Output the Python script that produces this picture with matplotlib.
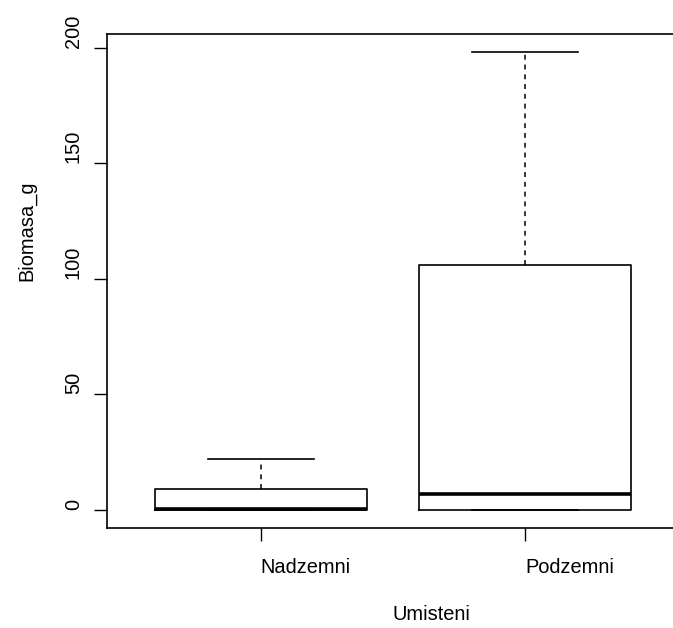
import matplotlib
matplotlib.use("Agg")
import matplotlib.pyplot as plt

plt.rcParams['font.family'] = ['Liberation Sans', 'DejaVu Sans']

# biomass summary per placement (g)
groups = ["Nadzemni", "Podzemni"]
whis_lo = [0.0, 0.0]
q1 = [0.0, 0.0]
medians = [0.5, 7.0]
q3 = [9.0, 106.0]
whis_hi = [22.0, 198.0]

yticks = [0, 50, 100, 150, 200]

stats = []
for i in range(len(groups)):
    stats.append({"label": groups[i], "whislo": whis_lo[i], "q1": q1[i],
                  "med": medians[i], "q3": q3[i], "whishi": whis_hi[i],
                  "fliers": []})

fig = plt.figure(figsize=(6.73, 6.28), dpi=100)
ax = fig.add_axes([107 / 673, 100 / 628, 572 / 673, 494 / 628])

ax.bxp(stats, positions=[1, 2], widths=0.8, showfliers=False,
       boxprops=dict(color="black", linewidth=1.2),
       medianprops=dict(color="black", linewidth=2.6, solid_capstyle="butt"),
       whiskerprops=dict(color="black", linewidth=1.1, linestyle=(0, (3.2, 3.2))),
       capprops=dict(color="black", linewidth=1.2),
       capwidths=0.4)

# same 4% padding as the base boxplot
lo = min(whis_lo)
hi = max(whis_hi)
ax.set_ylim(lo - 0.04 * (hi - lo), hi + 0.04 * (hi - lo))
ax.set_xlim(0.5 - 0.08, len(groups) + 0.5 + 0.08)

for s in ax.spines.values():
    s.set_linewidth(1.2)
    s.set_color("black")

ax.set_yticks(yticks)
ax.set_yticklabels([str(v) for v in yticks], rotation=90, va="bottom", fontsize=14.4)
ax.set_xticks([1, 2])
ax.set_xticklabels(groups, ha="left", fontsize=14.4)
ax.tick_params(axis="both", length=9.4, width=1.0, direction="out")
ax.tick_params(axis="y", pad=8)
ax.tick_params(axis="x", pad=12)

ax.set_xlabel("Umisteni", ha="left", fontsize=14.4, labelpad=20)
ax.set_ylabel("Biomasa_g", ha="left", fontsize=14.4, labelpad=20)

fig.savefig("out.png", dpi=100)
